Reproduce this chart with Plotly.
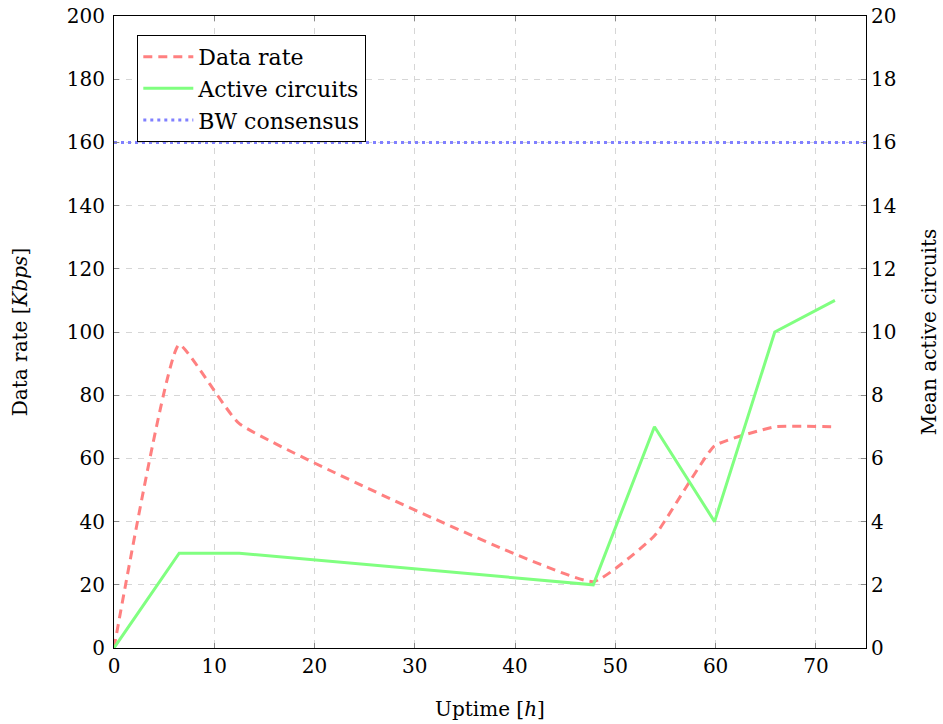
import plotly.graph_objects as go

# Uptime in hours for each sample
uptime = [0, 6.5, 12.5, 47.8, 53.9, 59.9, 65.9, 71.9]
# Mean data rate in Kbps
data_rate = [0, 96, 71, 21, 35.5, 64, 70, 70]
# Mean number of active circuits
active_circuits = [0, 3, 3, 2, 7, 4, 10, 11]
# Bandwidth advertised in the consensus (Kbps)
bw_consensus_x = [0, 75]
bw_consensus = [160, 160]

FONT = "DejaVu Serif"
RED = "#ff8080"
GREEN = "#80ff80"
BLUE = "#8080ff"
GRID = "#d6d6d6"
FS = 20

fig = go.Figure()

fig.add_trace(go.Scatter(
    x=uptime, y=data_rate, name="Data rate", mode="lines",
    line=dict(color=RED, width=3, dash="9px,6px", shape="spline", smoothing=0.35),
    yaxis="y",
))
fig.add_trace(go.Scatter(
    x=uptime, y=active_circuits, name="Active circuits", mode="lines",
    line=dict(color=GREEN, width=3),
    yaxis="y2",
))
fig.add_trace(go.Scatter(
    x=bw_consensus_x, y=bw_consensus, name="BW consensus", mode="lines",
    line=dict(color=BLUE, width=3, dash="3px,4px"),
    yaxis="y",
))

axis_common = dict(
    showline=True, linecolor="black", linewidth=1,
    ticks="inside", ticklen=5, tickcolor="#888888", tickwidth=1,
    tickfont=dict(family=FONT, size=FS, color="black"),
    zeroline=False, automargin=False,
)

fig.update_layout(
    width=943, height=724,
    margin=dict(l=114, r=77, t=16, b=76),
    paper_bgcolor="white", plot_bgcolor="white",
    font=dict(family=FONT, size=FS, color="black"),
    showlegend=True,
    legend=dict(
        x=0.031, y=0.97, xanchor="left", yanchor="top",
        bgcolor="white", bordercolor="black", borderwidth=1,
        font=dict(family=FONT, size=22, color="black"),
        tracegroupgap=0, itemwidth=50,
    ),
    xaxis=dict(
        **axis_common,
        range=[0, 75], tick0=0, dtick=10, mirror="ticks",
        showgrid=True, gridcolor=GRID, griddash="6px,6px", gridwidth=1,
        title=dict(text="Uptime [<i>h</i>]", standoff=24,
                   font=dict(family=FONT, size=FS)),
    ),
    yaxis=dict(
        **axis_common,
        range=[0, 200], tick0=0, dtick=20, ticklabelstandoff=4,
        showgrid=True, gridcolor=GRID, griddash="6px,6px", gridwidth=1,
        title=dict(text="Data rate [<i>Kbps</i>]", standoff=33,
                   font=dict(family=FONT, size=FS)),
    ),
    yaxis2=dict(
        **axis_common,
        range=[0, 20], tick0=0, dtick=2,
        overlaying="y", side="right", showgrid=False,
        title=dict(text="Mean active circuits", standoff=26,
                   font=dict(family=FONT, size=FS)),
    ),
)

fig.write_html("out.html")
